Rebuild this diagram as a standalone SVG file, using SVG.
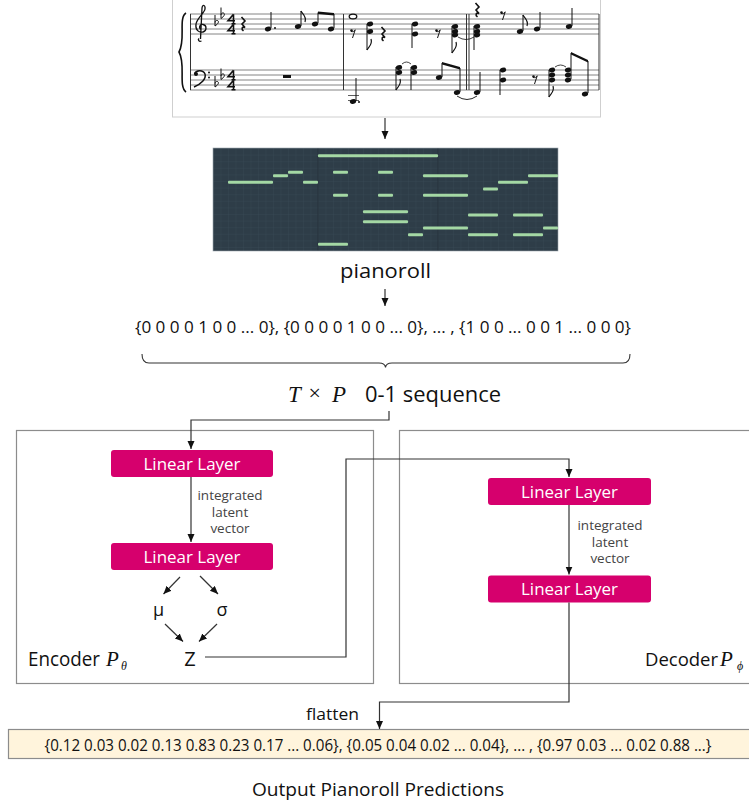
<svg xmlns="http://www.w3.org/2000/svg" width="749" height="805" viewBox="0 0 749 805">
<style>
.lbl{font-family:"Open Sans","Noto Sans","Liberation Sans",sans-serif;fill:#111}
.ll{fill:#d6006d}
.llt{font-family:"Open Sans","Noto Sans",sans-serif;font-size:16.5px;fill:#fff;text-anchor:middle}
.small{font-family:"Open Sans","Noto Sans",sans-serif;font-size:13.5px;fill:#444;text-anchor:middle}
.math{font-family:"Liberation Serif","DejaVu Serif",serif;font-style:italic;fill:#111}
.box{fill:#fff;stroke:#8c8c8c;stroke-width:1.2}
.con{fill:none;stroke:#333;stroke-width:1.2}
.staff{stroke:#666;stroke-width:0.8}
.stem{stroke:#111;stroke-width:1}
.bar{fill:#a4d8a4}
</style>
<defs>
<marker id="ah" markerUnits="userSpaceOnUse" markerWidth="8" markerHeight="8" refX="8" refY="3.5" orient="auto">
<path d="M0,0 L8,3.5 L0,7 z" fill="#111"/>
</marker>
<pattern id="grid" width="7.5" height="6.6" patternUnits="userSpaceOnUse" x="213" y="148">
<rect width="7.5" height="6.6" fill="#2e3d48"/>
<path d="M0,0 V6.6 M0,0 H7.5" stroke="#3a4a56" stroke-width="0.6"/>
</pattern>
<g id="flat"><path d="M0,-9 V2 C3,0 4.5,-2.5 2.5,-3.5 C1,-4 0,-2.5 0,-1.5" fill="none" stroke="#111" stroke-width="1"/></g>
<g id="qrest"><path d="M-1.5,-7 L2,-3 L-1,0 L2,3.5 C-1,2 -2,5 0.5,7" fill="none" stroke="#111" stroke-width="1.6"/></g>
<g id="erest"><circle cx="-1.5" cy="-2.5" r="1.3" fill="#111"/><path d="M-2,-1.5 C0,-1 1.5,-1.8 2.2,-3.2 L-0.5,5" fill="none" stroke="#111" stroke-width="1"/></g>
<ellipse id="n" rx="3.2" ry="2.3" transform="rotate(-20)" fill="#111"/>
<g id="four"><path d="M2.5,0 L-3,6.5 H4 M2.5,0 V9.5 M0.5,9.5 H4.5" fill="none" stroke="#111" stroke-width="1.6"/></g>
</defs>

<g id="sheet-music">
<rect x="172.5" y="-2" width="428" height="119" fill="#fff" stroke="#cfcfcf" stroke-width="1"/>
<g class="staff">
<path d="M190,14H599M190,19H599M190,24H599M190,29H599M190,34H599"/>
<path d="M190,70H599M190,75H599M190,80H599M190,85H599M190,90H599"/>
<path d="M190.5,14V90M343.5,14V90M466.5,14V90M469,14V90M599,14V90" stroke="#333" stroke-width="1"/>
</g>
<path d="M186,13 C178,18 186,40 179,52 C186,64 178,86 186,92" fill="none" stroke="#111" stroke-width="1.6"/>
<path d="M201.5,41 C199,42 197.5,40 199,38.5 M200.5,39 L202,8 C202.5,4 205.5,5 205,9 C204.5,13 197,18 196,24 C195,30 199,33 203,32 C207,31 207,25 203,24.5 C199.5,24 198.5,28 201,29.5" fill="none" stroke="#111" stroke-width="1.3"/>
<circle cx="196" cy="74" r="2" fill="#111"/>
<path d="M194.5,74 C196,70 203,69.5 205,74 C206.5,79 201,84 194,87" fill="none" stroke="#111" stroke-width="1.5"/>
<circle cx="209" cy="72.5" r="1" fill="#111"/><circle cx="209" cy="77.5" r="1" fill="#111"/>
<use href="#flat" x="215" y="24"/><use href="#flat" x="221" y="16.5"/>
<use href="#flat" x="215" y="85"/><use href="#flat" x="221" y="77.5"/>
<use href="#four" x="231" y="14.3"/><use href="#four" x="231" y="24.3"/>
<use href="#four" x="231" y="70.3"/><use href="#four" x="231" y="80.3"/>
<!-- measure 1 treble -->
<use href="#qrest" x="243" y="24"/>
<use href="#n" x="268" y="29"/><circle cx="275" cy="28" r="1" fill="#111"/>
<use href="#n" x="298" y="26.5"/>
<path class="stem" d="M271,28V12M301,26V11"/>
<path d="M301,11 c1,3 6,5 4,11" fill="none" stroke="#111" stroke-width="1.2"/>
<use href="#n" x="315" y="24"/><use href="#n" x="331" y="29"/>
<path class="stem" d="M318,23V12.5M334,28V14"/>
<path d="M318,11.5 L334,13 L334,15.5 L318,14 z" fill="#111"/>
<!-- measure 1 bass -->
<rect x="283" y="75" width="8" height="3" fill="#111"/>
<!-- measure 2 treble -->
<ellipse cx="353" cy="16.5" rx="3.8" ry="2.4" fill="none" stroke="#111" stroke-width="1.3"/>
<use href="#erest" x="353" y="33"/>
<use href="#n" x="370" y="24"/><use href="#n" x="370" y="31.5"/>
<path class="stem" d="M367,24V50"/><path d="M367,50 c1,-3 6,-5 4,-11" fill="none" stroke="#111" stroke-width="1.2"/>
<use href="#qrest" x="383" y="34"/>
<use href="#n" x="415" y="24"/><use href="#n" x="415" y="34"/>
<path class="stem" d="M412,24V48"/>
<use href="#erest" x="438" y="33"/>
<use href="#n" x="455" y="26.5"/><use href="#n" x="455" y="31.5"/><use href="#n" x="455" y="35"/>
<path class="stem" d="M452,26V53"/><path d="M452,53 c1,-3 6,-5 4,-11" fill="none" stroke="#111" stroke-width="1.2"/>
<path d="M458,37 Q466,42 474,37" fill="none" stroke="#111" stroke-width="0.8"/>
<!-- measure 3 treble -->
<use href="#qrest" x="477" y="10"/>
<use href="#n" x="477" y="26.5"/><use href="#n" x="477" y="31.5"/><use href="#n" x="477" y="35"/>
<path class="stem" d="M474,26V50"/>
<use href="#erest" x="503" y="15"/>
<use href="#n" x="520" y="31.5"/><path class="stem" d="M523,31V15"/><path d="M523,15 c1,3 6,5 4,11" fill="none" stroke="#111" stroke-width="1.2"/>
<use href="#n" x="537" y="29"/><path class="stem" d="M540,28V12"/>
<use href="#n" x="569" y="26.5"/><path class="stem" d="M572,26V8"/>
<!-- measure 2 bass -->
<path d="M348,95.5H359M348,100.5H359" stroke="#333" stroke-width="0.8"/>
<use href="#n" x="353" y="101.5"/><circle cx="359" cy="102" r="1" fill="#111"/>
<path class="stem" d="M356,101V78"/>
<use href="#n" x="399" y="67.5"/><use href="#n" x="399" y="72.5"/>
<path class="stem" d="M396,67V90"/><path d="M396,90 c1,-3 6,-5 4,-11" fill="none" stroke="#111" stroke-width="1.2"/>
<path d="M402,64 Q406.5,60 411,64" fill="none" stroke="#111" stroke-width="0.8"/>
<use href="#n" x="414" y="67.5"/><use href="#n" x="414" y="72.5"/>
<path class="stem" d="M411,67V90"/>
<use href="#n" x="439" y="77.5"/><use href="#n" x="457" y="92.5"/>
<path class="stem" d="M442,77V63M460,92V68"/>
<path d="M442,62 L460,67 L460,69.5 L442,64.5 z" fill="#111"/>
<path d="M457,96 Q467,103 477,96" fill="none" stroke="#111" stroke-width="0.9"/>
<!-- measure 3 bass -->
<use href="#n" x="477" y="92.5"/><path class="stem" d="M480,92V72"/>
<use href="#n" x="503" y="70"/><use href="#n" x="503" y="80"/>
<path class="stem" d="M500,70V95"/>
<use href="#erest" x="535" y="79"/>
<use href="#n" x="552" y="70"/><use href="#n" x="552" y="75"/><use href="#n" x="552" y="80"/>
<path class="stem" d="M549,70V97"/><path d="M549,97 c1,-3 6,-5 4,-11" fill="none" stroke="#111" stroke-width="1.2"/>
<path d="M555,67 Q560.5,63 566,67" fill="none" stroke="#111" stroke-width="0.8"/>
<use href="#n" x="568" y="70"/><use href="#n" x="568" y="75"/><use href="#n" x="568" y="80"/>
<use href="#n" x="585" y="94"/>
<path class="stem" d="M571,79V53M588,93V61"/>
<path d="M571,52 L588,60 L588,62.5 L571,54.5 z" fill="#111"/>
</g>

<g id="pianoroll">
<rect x="213" y="148" width="345" height="103" fill="url(#grid)"/>
<path d="M318,148V251M438,148V251" stroke="#26333d" stroke-width="1"/>
<rect x="213" y="148" width="345" height="103" fill="none" stroke="#9aa3aa" stroke-width="0.6"/>
<g class="bar">
<rect x="318" y="154.2" width="120" height="3" rx="1"/>
<rect x="273" y="174.2" width="15" height="3" rx="1"/>
<rect x="288" y="170.8" width="15" height="3" rx="1"/>
<rect x="228" y="180.8" width="45" height="3" rx="1"/>
<rect x="303" y="180.8" width="15" height="3" rx="1"/>
<rect x="333" y="170.8" width="15" height="3" rx="1"/>
<rect x="378" y="170.8" width="15" height="3" rx="1"/>
<rect x="423" y="174.2" width="45" height="3" rx="1"/>
<rect x="528" y="174.2" width="30" height="3" rx="1"/>
<rect x="498" y="180.8" width="30" height="3" rx="1"/>
<rect x="483" y="187.5" width="15" height="3" rx="1"/>
<rect x="333" y="193.8" width="15" height="3" rx="1"/>
<rect x="378" y="193.8" width="15" height="3" rx="1"/>
<rect x="423" y="193.8" width="45" height="3" rx="1"/>
<rect x="363" y="210.2" width="45" height="3" rx="1"/>
<rect x="363" y="220.2" width="45" height="3" rx="1"/>
<rect x="468" y="213.5" width="30" height="3" rx="1"/>
<rect x="513" y="213.5" width="30" height="3" rx="1"/>
<rect x="423" y="226.5" width="45" height="3" rx="1"/>
<rect x="543" y="226.5" width="15" height="3" rx="1"/>
<rect x="408" y="233.2" width="15" height="3" rx="1"/>
<rect x="468" y="233.2" width="30" height="3" rx="1"/>
<rect x="513" y="233.2" width="30" height="3" rx="1"/>
<rect x="318" y="242.8" width="30" height="3" rx="1"/>
</g>
<text class="lbl" x="385.5" y="278" font-size="20" text-anchor="middle" textLength="91" lengthAdjust="spacingAndGlyphs">pianoroll</text>
</g>

<g id="sequence">
<text class="lbl" x="383" y="333" font-size="16" text-anchor="middle" fill="#222" textLength="496" lengthAdjust="spacingAndGlyphs">{0 0 0 0 1 0 0 ... 0}, {0 0 0 0 1 0 0 ... 0}, ... , {1 0 0 ... 0 0 1 ... 0 0 0}</text>
<path d="M142,354 Q142,363 149,363 H379 Q385,363 385.5,367.5 Q386,363 392,363 H623 Q630,363 630,354" fill="none" stroke="#333" stroke-width="1.1"/>
<text class="math" x="288" y="401.5" font-size="23">T</text>
<text x="308.5" y="400" font-size="22" font-family="Liberation Serif,serif" fill="#111">×</text>
<text class="math" x="332" y="401.5" font-size="23">P</text>
<text class="lbl" x="365" y="401.5" font-size="21" textLength="136" lengthAdjust="spacingAndGlyphs">0-1 sequence</text>
</g>

<g id="encoder">
<rect class="box" x="16.5" y="430.5" width="357" height="253"/>
<text class="lbl" x="28" y="666" font-size="19.5" textLength="72" lengthAdjust="spacingAndGlyphs">Encoder</text>
<text class="math" x="106" y="666" font-size="21">P</text>
<text class="math" x="121" y="670" font-size="12">θ</text>
</g>
<g id="enc-linear-1">
<rect class="ll" x="111" y="450" width="162" height="27" rx="3"/>
<text class="llt" x="192" y="469.5" textLength="97" lengthAdjust="spacingAndGlyphs">Linear Layer</text>
</g>
<g id="enc-linear-2">
<rect class="ll" x="111" y="543" width="162" height="27" rx="3"/>
<text class="llt" x="192" y="562.5" textLength="97" lengthAdjust="spacingAndGlyphs">Linear Layer</text>
</g>
<g id="enc-label">
<text class="small" x="230" y="500">integrated<tspan x="230" dy="16.5">latent</tspan><tspan x="230" dy="16.5">vector</tspan></text>
</g>
<g id="mu"><text class="lbl" x="158.5" y="616" font-size="18" text-anchor="middle">μ</text></g>
<g id="sigma"><text class="lbl" x="222" y="616" font-size="18" text-anchor="middle">σ</text></g>
<g id="z"><text class="lbl" x="190" y="666" font-size="20" text-anchor="middle">Z</text></g>

<g id="decoder">
<rect class="box" x="399.5" y="430.5" width="360" height="253"/>
<text class="lbl" x="645" y="666" font-size="18.5">Decoder</text>
<text class="math" x="720" y="666" font-size="21">P</text>
<text class="math" x="737" y="670" font-size="12">ϕ</text>
</g>
<g id="dec-linear-1">
<rect class="ll" x="488" y="478" width="163" height="27" rx="3"/>
<text class="llt" x="569.5" y="497.5" textLength="97" lengthAdjust="spacingAndGlyphs">Linear Layer</text>
</g>
<g id="dec-linear-2">
<rect class="ll" x="488" y="575.5" width="163" height="27" rx="3"/>
<text class="llt" x="569.5" y="595" textLength="97" lengthAdjust="spacingAndGlyphs">Linear Layer</text>
</g>
<g id="dec-label">
<text class="small" x="610" y="530">integrated<tspan x="610" dy="16.5">latent</tspan><tspan x="610" dy="16.5">vector</tspan></text>
</g>

<g id="output">
<rect x="8.5" y="729.5" width="750" height="29" fill="#fff4dc" stroke="#8c8c8c" stroke-width="1.2"/>
<text class="lbl" x="44.5" y="751" font-size="15.5" fill="#333" textLength="667" lengthAdjust="spacingAndGlyphs">{0.12 0.03 0.02 0.13 0.83 0.23 0.17 ... 0.06}, {0.05 0.04 0.02 ... 0.04}, ... , {0.97 0.03 ... 0.02 0.88 ...}</text>
<text class="lbl" x="306" y="720" font-size="16" textLength="53" lengthAdjust="spacingAndGlyphs">flatten</text>
<text class="lbl" x="378" y="796" font-size="18" text-anchor="middle" textLength="252" lengthAdjust="spacingAndGlyphs">Output Pianoroll Predictions</text>
</g>

<g id="connectors" class="con">
<path d="M385,118 V139" marker-end="url(#ah)"/>
<path d="M385,289 V306" marker-end="url(#ah)"/>
<path d="M389,411 V420 H191 V449" marker-end="url(#ah)"/>
<path d="M191,477 V542" marker-end="url(#ah)"/>
<path d="M180,577 L163.5,594" marker-end="url(#ah)"/>
<path d="M200,576 L218,594" marker-end="url(#ah)"/>
<path d="M165,624 L183,641.5" marker-end="url(#ah)"/>
<path d="M217,624 L199,641.5" marker-end="url(#ah)"/>
<path d="M205,657 H346 V459 H569 V477" marker-end="url(#ah)"/>
<path d="M569,505 V574.5" marker-end="url(#ah)"/>
<path d="M569,602.5 V702 H379.5 V729" marker-end="url(#ah)"/>
</g>
</svg>
